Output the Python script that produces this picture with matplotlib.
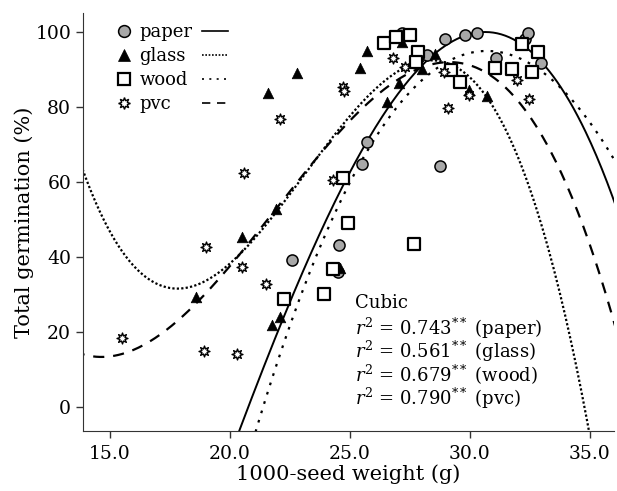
import numpy as np
import matplotlib
matplotlib.use("Agg")
import matplotlib.pyplot as plt
from matplotlib.lines import Line2D

plt.rcParams['font.family'] = 'DejaVu Serif'
plt.rcParams['mathtext.fontset'] = 'dejavuserif'

# observed points (1000-seed weight, total germination)
paper_x = [22.6, 24.5, 24.55, 25.5, 25.7, 27.15, 28.2, 28.75, 28.96, 29.8, 30.3, 31.1, 32.3, 32.4, 32.95]
paper_y = [39.0, 36.0, 43.1, 64.7, 70.7, 99.6, 93.8, 64.2, 98.2, 99.1, 99.6, 92.9, 98.2, 99.6, 91.8]

glass_x = [18.6, 20.5, 21.75, 22.1, 21.6, 21.9, 22.8, 24.58, 25.4, 25.7, 26.55, 27.05, 27.15, 28.0, 28.55, 29.05, 29.95, 30.7]
glass_y = [29.2, 45.2, 21.8, 23.8, 83.6, 52.8, 88.9, 36.9, 90.4, 94.9, 81.3, 86.3, 97.3, 90.0, 94.2, 90.7, 84.5, 82.9]

wood_x = [22.25, 23.9, 24.3, 24.7, 24.9, 26.4, 26.9, 27.5, 27.65, 27.85, 27.75, 29.2, 29.6, 31.05, 31.75, 32.15, 32.6, 32.85]
wood_y = [28.6, 30.1, 36.7, 61.1, 49.1, 97.0, 98.7, 99.1, 43.3, 94.7, 92.0, 89.8, 86.7, 90.4, 90.1, 96.7, 89.2, 94.5]

pvc_x = [15.5, 18.9, 19.0, 20.3, 20.5, 20.6, 21.5, 22.07, 24.3, 24.7, 24.75, 26.78, 27.3, 28.9, 29.1, 29.95, 31.95, 32.45]
pvc_y = [18.2, 14.9, 42.5, 14.0, 37.3, 62.3, 32.7, 76.8, 60.5, 85.3, 84.3, 92.9, 90.7, 89.3, 79.7, 83.1, 87.1, 82.0]

# points
paper_cx = [20.4, 22.0, 24.45, 25.5, 27.9, 30.7, 33.05, 34.2, 36.1]
paper_cy = [-5.3, 18.7, 55.1, 69.3, 91.1, 100.0, 89.8, 81.8, 53.3]

glass_cx = [13.9, 15.0, 17.8, 20.5, 21.95, 24.45, 26.8, 28.6, 30.8, 32.64, 34.03, 35.0]
glass_cy = [62.0, 48.0, 30.9, 40.0, 52.5, 73.8, 89.3, 92.5, 81.8, 55.1, 19.6, -5.3]

wood_cx = [21.14, 24.58, 27.6, 30.7, 34.6, 35.97]
wood_cy = [-5.3, 55.1, 84.0, 94.7, 80.0, 65.8]

pvc_cx = [13.96, 14.6, 15.8, 17.1, 18.6, 19.9, 21.25, 24.3, 28.3, 30.4, 31.7, 32.8, 34.0, 36.0]
pvc_cy = [13.7, 13.3, 14.7, 20.0, 28.0, 34.7, 48.0, 72.0, 92.0, 88.5, 84.0, 74.7, 59.6, 22.7]

r2_labels = ["0.743", "0.561", "0.679", "0.790"]
names = ["paper", "glass", "wood", "pvc"]

fig = plt.figure(figsize=(6.17, 4.91), dpi=100)
ax = fig.add_axes([0.1345, 0.1212, 0.8605, 0.8523])

styles = {
    "paper": "-",
    "glass": (0, (1.0, 1.0)),
    "wood": (0, (1.2, 3.2)),
    "pvc": (0, (5, 4)),
}
curves = [(paper_cx, paper_cy, 19.8), (glass_cx, glass_cy, 13.5),
          (wood_cx, wood_cy, 20.5), (pvc_cx, pvc_cy, 13.5)]
for name, (cx, cy, x0) in zip(names, curves):
    coef = np.polyfit(cx, cy, 3)
    xs = np.linspace(x0, 36.5, 300)
    lw = 1.4 if name == "paper" else 1.6
    ax.plot(xs, np.polyval(coef, xs), color="black", lw=lw, ls=styles[name], zorder=2)

mk = {
    "paper": dict(marker="o", s=64, facecolor="#a8a8a8", edgecolor="black", linewidths=1.1),
    "glass": dict(marker="^", s=58, facecolor="black", edgecolor="black", linewidths=0.5),
    "wood": dict(marker="s", s=85, facecolor="white", edgecolor="black", linewidths=1.6),
    "pvc": dict(marker=(8, 1, 0), s=62, facecolor="white", edgecolor="black", linewidths=1.0),
}
for name, px, py in zip(names, [paper_x, glass_x, wood_x, pvc_x], [paper_y, glass_y, wood_y, pvc_y]):
    ax.scatter(px, py, zorder=3, **mk[name])

ax.set_xlim(13.875, 36.0)
ax.set_ylim(-6.6, 105)
ax.set_xticks([15, 20, 25, 30, 35])
ax.set_xticklabels(["15.0", "20.0", "25.0", "30.0", "35.0"])
ax.set_yticks([0, 20, 40, 60, 80, 100])
ax.tick_params(labelsize=13.5, length=5, color="#333333", width=1)
ax.tick_params(axis="x", pad=4.5)
for s in ["top", "right"]:
    ax.spines[s].set_visible(False)
for s in ["left", "bottom"]:
    ax.spines[s].set_color("#333333")
ax.set_xlabel("1000-seed weight (g)", fontsize=15, labelpad=1)
ax.set_ylabel("Total germination (%)", fontsize=15, labelpad=1)

# marker legend
h1 = [Line2D([], [], ls="none", marker=mk[n]["marker"], markersize=8.5,
             markerfacecolor=mk[n]["facecolor"], markeredgecolor="black",
             markeredgewidth=mk[n]["linewidths"]) for n in names]
leg1 = ax.legend(h1, names, loc="upper left", bbox_to_anchor=(0.062, 0.976),
                 frameon=False, fontsize=13, handlelength=0.9, handletextpad=0.4,
                 labelspacing=0.34, borderaxespad=0, borderpad=0)
ax.add_artist(leg1)
h2 = [Line2D([], [], color="black", lw=1.2, ls=styles[n]) for n in names]
ax.legend(h2, ["", "", "", ""], loc="upper left", bbox_to_anchor=(0.225, 0.976),
          frameon=False, fontsize=13, handlelength=1.4, handletextpad=0,
          labelspacing=0.34, borderaxespad=0, borderpad=0)

ax.text(25.2, 27.7, "Cubic", fontsize=13, va="center")
for i, (r2, n) in enumerate(zip(r2_labels, names)):
    ax.text(25.2, 21.0 - 6.25 * i, r"$r^2$ = " + r2 + r"$^{**}$ (" + n + ")",
            fontsize=13, va="center")

fig.savefig("out.png", dpi=100)
